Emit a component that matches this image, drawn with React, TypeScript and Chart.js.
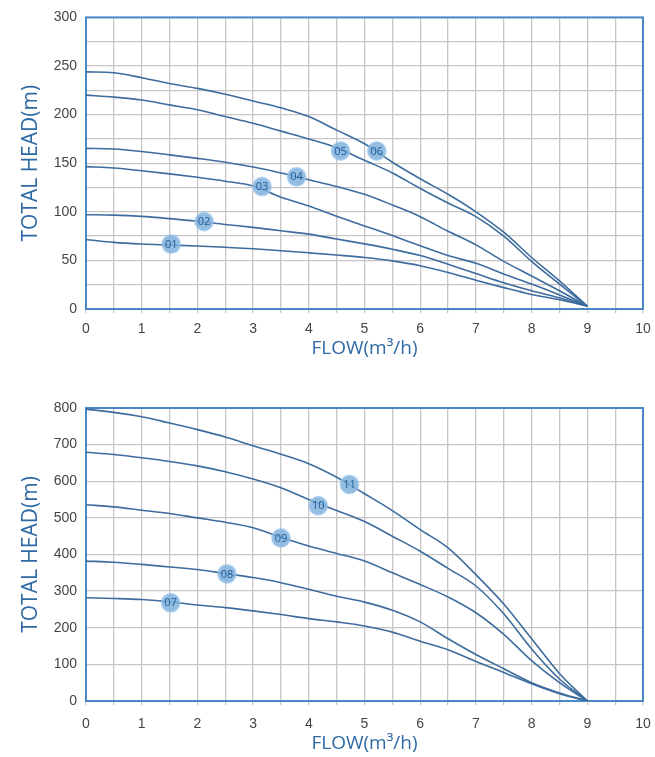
import React, { useEffect, useRef } from 'react';
import { Chart, registerables } from 'chart.js';

Chart.register(...registerables);

// ---------- data ----------
const flow = [0, 0.5, 1, 1.5, 2, 2.5, 3, 3.5, 4, 4.5, 5, 5.5, 6, 6.5, 7, 7.5, 8, 8.5, 9];

// top panel (heads in m)
const head01 = [71.5, 68.5, 66.8, 65.8, 64.8, 63.5, 62, 60, 57.8, 55.5, 53, 49.5, 44.5, 37.5, 29.5, 22, 15, 9.5, 3];
const head02 = [97, 96.6, 95.3, 93, 90.3, 87, 84, 80.5, 77, 72, 67, 61.5, 55, 46, 36.5, 27, 18.7, 11.5, 3];
const head03 = [146.5, 145, 142.2, 139, 135.5, 131.5, 126.5, 115, 106, 95.5, 85.5, 75.5, 65, 55, 47, 36, 25.6, 14.5, 3];
const head04 = [165.3, 164.6, 162, 158.6, 155, 151, 146, 140, 133, 126, 118, 107, 95, 80, 66, 49, 34, 18.7, 3];
const head05 = [220, 218, 215, 210, 205, 198, 191, 183, 175, 166, 153, 140, 124, 109, 95, 75, 49, 25.6, 3];
const head06 = [244, 243, 238, 232, 227, 221, 214, 207, 198, 184, 170, 151, 134, 118, 100, 79, 53, 29, 3];

// bottom panel
const head07 = [282, 280, 277, 271, 262, 255, 246, 236, 225, 216, 205, 188, 163, 140, 108, 78, 47, 20, 0];
const head08 = [382, 379, 373, 366, 359, 348, 337, 323, 305, 286, 270, 248, 216, 170, 127, 88, 50, 22, 0];
const head09 = [536, 530, 521, 512, 500, 488, 473, 447, 423, 403, 382, 350, 318, 284, 241, 182, 110, 50, 0];
const head10 = [679, 673, 664, 654, 642, 626, 606, 582, 550, 520, 490, 450, 409, 362, 314, 238, 142, 60, 0];
const head11 = [797, 788, 776, 759, 741, 721, 697, 674, 648, 611, 566, 520, 468, 418, 345, 265, 170, 75, 0];

// curve tags
const topTagNames = ['01', '02', '03', '04', '05', '06'];
const topTagFlow = [1.53, 2.12, 3.16, 3.78, 4.57, 5.22];
const topTagHead = [66.8, 90, 126, 136, 162.6, 162.6];

const bottomTagNames = ['07', '08', '09', '10', '11'];
const bottomTagFlow = [1.52, 2.53, 3.5, 4.17, 4.73];
const bottomTagHead = [268, 347, 445, 533, 591];

// axes
const xMin = 0;
const xMax = 10;
const xStep = 0.5;
const topYMax = 300;
const topYStep = 25;
const topYLabelEvery = 50;
const bottomYMax = 800;
const bottomYStep = 100;
const bottomYLabelEvery = 100;

const xTitle = 'FLOW(m³/h)';
const yTitle = 'TOTAL HEAD(m)';

// ---------- styling ----------
const LINE_COLOR = '#3d6c9e';
const FRAME_COLOR = '#4a87c6';
const GRID_COLOR = '#c6c6c6';
const TICK_COLOR = '#454545';
const TITLE_COLOR = '#2f6aa5';

const framePlugin = {
  id: 'frameBox',
  beforeDatasetsDraw(chart: any) {
    const { ctx, chartArea } = chart;
    const { left, top, right, bottom } = chartArea;
    ctx.save();
    ctx.strokeStyle = FRAME_COLOR;
    ctx.lineWidth = 2;
    ctx.strokeRect(left, top, right - left, bottom - top);
    ctx.restore();
  },
};

const tagTextPlugin = {
  id: 'tagText',
  afterDatasetsDraw(chart: any) {
    const { ctx } = chart;
    chart.data.datasets.forEach((ds: any, i: number) => {
      if (!ds.tagNames) return;
      const meta = chart.getDatasetMeta(i);
      ctx.save();
      ctx.font = '11px "Open Sans", sans-serif';
      ctx.fillStyle = '#1f5c99';
      ctx.textAlign = 'center';
      ctx.textBaseline = 'middle';
      meta.data.forEach((pt: any, j: number) => {
        ctx.fillText(ds.tagNames[j], pt.x, pt.y + 0.5);
      });
      ctx.restore();
    });
  },
};

function buildConfig(
  series: number[][],
  tagNames: string[],
  tagFlow: number[],
  tagHead: number[],
  yMax: number,
  yStep: number,
  yLabelEvery: number,
  padTop: number,
  xScaleHeight: number,
  tickPad: number,
  titlePadBottom: number
) {
  const lineSets = series.map((h) => ({
    type: 'line',
    data: flow.map((f, i) => ({ x: f, y: h[i] })),
    borderColor: LINE_COLOR,
    borderWidth: 1.6,
    pointRadius: 0,
    cubicInterpolationMode: 'monotone',
    fill: false,
    order: 1,
  }));
  const tagSet = {
    type: 'scatter',
    data: tagFlow.map((f, i) => ({ x: f, y: tagHead[i] })),
    tagNames,
    pointRadius: 9,
    pointHoverRadius: 9,
    backgroundColor: 'rgba(128,176,220,0.85)',
    borderColor: 'rgba(150,195,235,0.6)',
    borderWidth: 2,
    order: -1,
  };
  return {
    type: 'line',
    data: { datasets: [tagSet, ...lineSets] },
    options: {
      responsive: false,
      animation: false,
      devicePixelRatio: 1,
      layout: { padding: { left: 0, right: 12, top: padTop, bottom: 0 } },
      plugins: { legend: { display: false }, tooltip: { enabled: false } },
      scales: {
        x: {
          type: 'linear',
          min: xMin,
          max: xMax,
          afterFit: (s: any) => {
            s.height = xScaleHeight;
            s.paddingLeft = 0;
            s.paddingRight = 0;
          },
          border: { display: false },
          grid: { color: GRID_COLOR, lineWidth: 1.3, tickLength: 4, drawTicks: true },
          ticks: {
            stepSize: xStep,
            autoSkip: false,
            maxRotation: 0,
            padding: tickPad,
            color: TICK_COLOR,
            font: { family: '"Liberation Sans", Arial, sans-serif', size: 14 },
            callback: (v: any) => (Number.isInteger(v) ? String(v) : ''),
          },
          title: {
            display: true,
            text: xTitle,
            color: TITLE_COLOR,
            font: { family: '"Open Sans", sans-serif', size: 19 },
            padding: { top: 0, bottom: titlePadBottom },
          },
        },
        y: {
          type: 'linear',
          min: 0,
          max: yMax,
          afterFit: (s: any) => {
            s.width = 86;
          },
          border: { display: false },
          grid: { color: GRID_COLOR, lineWidth: 1.3, drawTicks: false },
          ticks: {
            stepSize: yStep,
            autoSkip: false,
            padding: 9,
            color: TICK_COLOR,
            font: { family: '"Liberation Sans", Arial, sans-serif', size: 14 },
            callback: (v: any) => (v % yLabelEvery === 0 ? String(v) : ''),
          },
          title: {
            display: true,
            text: yTitle,
            color: TITLE_COLOR,
            font: { family: '"Open Sans", sans-serif', size: 21 },
            padding: { top: 18, bottom: 0 },
          },
        },
      },
    },
    plugins: [framePlugin, tagTextPlugin],
  };
}

function PumpChart(props: { config: any; width: number; height: number; top: number }) {
  const ref = useRef<HTMLCanvasElement | null>(null);
  useEffect(() => {
    if (!ref.current) return;
    const chart = new Chart(ref.current, props.config);
    return () => chart.destroy();
  }, []);
  return (
    <canvas
      ref={ref}
      width={props.width}
      height={props.height}
      style={{ position: 'absolute', left: 0, top: props.top, width: props.width, height: props.height }}
    />
  );
}

export default function App() {
  const topConfig = buildConfig(
    [head01, head02, head03, head04, head05, head06],
    topTagNames, topTagFlow, topTagHead,
    topYMax, topYStep, topYLabelEvery,
    15, 63, 8, 12
  );
  const bottomConfig = buildConfig(
    [head07, head08, head09, head10, head11],
    bottomTagNames, bottomTagFlow, bottomTagHead,
    bottomYMax, bottomYStep, bottomYLabelEvery,
    28, 56, 11, 2
  );
  return (
    <div style={{ position: 'absolute', left: 0, top: 0, width: 655, height: 757, background: '#fff' }}>
      <PumpChart config={topConfig} width={655} height={372} top={0} />
      <PumpChart config={bottomConfig} width={655} height={377} top={380} />
    </div>
  );
}
